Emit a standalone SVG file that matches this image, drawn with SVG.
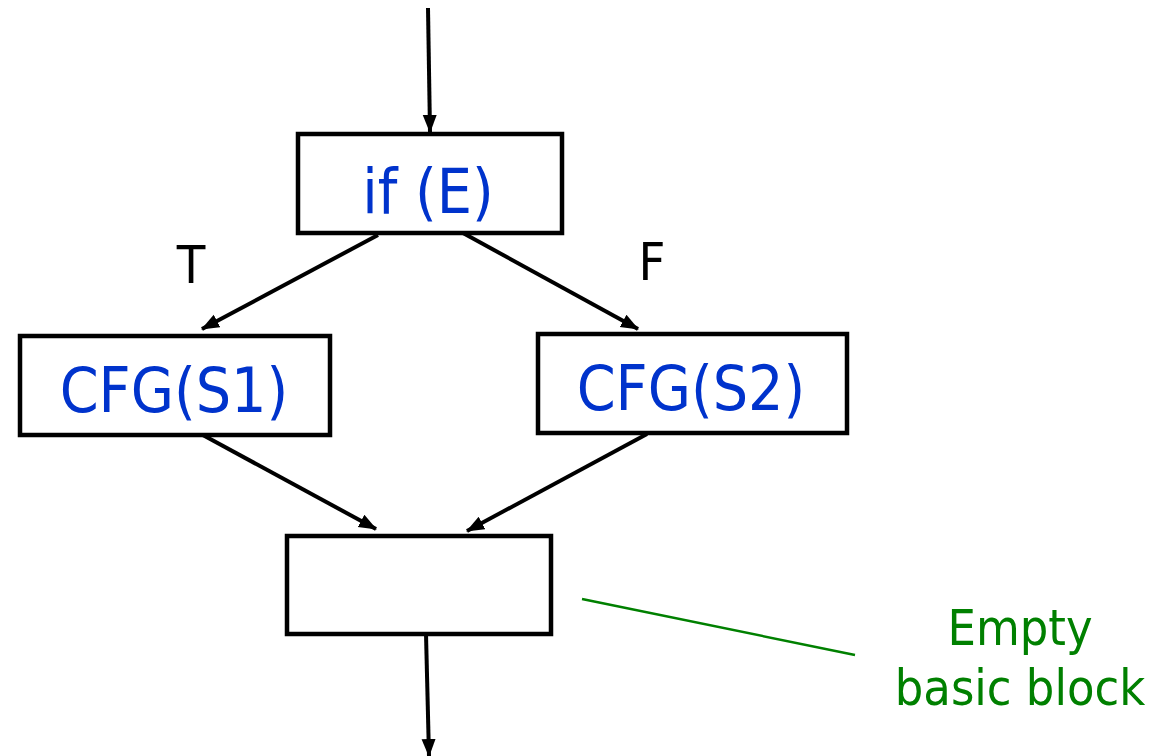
<svg xmlns="http://www.w3.org/2000/svg" width="1159" height="756" viewBox="0 0 1159 756">
  <defs>
    <marker id="arrow" markerUnits="userSpaceOnUse" markerWidth="18" markerHeight="16" refX="17" refY="8" orient="auto">
      <path d="M0,1 L18,8 L0,15 Z" fill="#000"/>
    </marker>
    <style>
      .box { fill: #fff; stroke: #000; stroke-width: 4.5; }
      .code { font-family: "DejaVu Sans Condensed", "DejaVu Sans", sans-serif; font-size: 62px; fill: #0033cc; text-anchor: middle; }
      .branch { font-family: "DejaVu Sans Condensed", "DejaVu Sans", sans-serif; font-size: 52px; fill: #000; text-anchor: middle; }
      .note { font-family: "DejaVu Sans Condensed", "DejaVu Sans", sans-serif; font-size: 50px; fill: #008000; text-anchor: middle; }
      .edge { stroke: #000; stroke-width: 4; fill: none; marker-end: url(#arrow); }
    </style>
  </defs>
  <rect width="1159" height="756" fill="#fff"/>

  <g id="connectors">
    <line class="edge" x1="428" y1="8" x2="430" y2="132"/>
    <line class="edge" x1="378" y1="235" x2="202" y2="329"/>
    <line class="edge" x1="463" y1="233" x2="638" y2="329"/>
    <line class="edge" x1="201" y1="434" x2="376" y2="529"/>
    <line class="edge" x1="647" y1="434" x2="467" y2="531"/>
    <line class="edge" x1="426" y1="634" x2="429" y2="756"/>
    <line x1="582" y1="599" x2="855" y2="655" stroke="#008000" stroke-width="2.5"/>
  </g>

  <g id="node-if">
    <rect class="box" x="298" y="134" width="264" height="99"/>
    <text class="code" x="428" y="213">if (E)</text>
  </g>

  <g id="label-T"><text class="branch" x="191" y="283">T</text></g>
  <g id="label-F"><text class="branch" x="652" y="280">F</text></g>

  <g id="node-s1">
    <rect class="box" x="20" y="336" width="310" height="99"/>
    <text class="code" x="174" y="412">CFG(S1)</text>
  </g>

  <g id="node-s2">
    <rect class="box" x="538" y="334" width="309" height="99"/>
    <text class="code" x="691" y="410">CFG(S2)</text>
  </g>

  <g id="node-join">
    <rect class="box" x="287" y="536" width="264" height="98"/>
  </g>

  <g id="note-empty">
    <text class="note" x="1020" y="645">Empty</text>
    <text class="note" x="1020" y="705">basic block</text>
  </g>
</svg>
